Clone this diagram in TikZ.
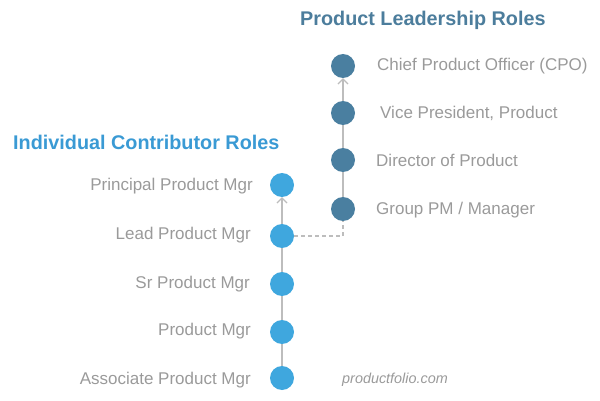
\documentclass[tikz,border=0pt]{standalone}
\usepackage{fontspec}
\setmainfont{Liberation Sans}
\usetikzlibrary{arrows.meta}
\definecolor{icblue}{HTML}{3FA7DE}
\definecolor{plblue}{HTML}{4A7FA0}
\definecolor{ichead}{HTML}{3A9AD4}
\definecolor{plhead}{HTML}{4C7D9C}
\definecolor{lbl}{HTML}{9A9A9A}
\definecolor{ln}{HTML}{BDBDBD}
\begin{document}
\begin{tikzpicture}[x=1pt,y=-1pt,
  icdot/.style={circle,fill=icblue,minimum size=24pt,inner sep=0pt},
  pldot/.style={circle,fill=plblue,minimum size=24pt,inner sep=0pt},
  lblL/.style={anchor=east,text=lbl,font=\fontsize{17}{20}\selectfont,inner sep=0pt},
  lblR/.style={anchor=west,text=lbl,font=\fontsize{17}{20}\selectfont,inner sep=0pt},
  heading/.style={font=\fontsize{19.8}{23}\selectfont\bfseries,inner sep=0pt},
  conn/.style={draw=ln,line width=1.3pt},
  arr/.style={conn,-{Straight Barb[length=5pt,width=10pt,line width=1.2pt]}},
  dashconn/.style={draw=ln,line width=1.3pt,dashed,dash pattern=on 4pt off 3pt}]
\useasboundingbox (0,0) rectangle (600,401);
% left dots
\node[icdot] (ic5) at (282,185) {};
\node[icdot] (ic4) at (282,236) {};
\node[icdot] (ic3) at (282,284) {};
\node[icdot] (ic2) at (282,332) {};
\node[icdot] (ic1) at (282,378) {};
% right dots
\node[pldot] (pl4) at (343,66) {};
\node[pldot] (pl3) at (343,113) {};
\node[pldot] (pl2) at (343,160) {};
\node[pldot] (pl1) at (343,209) {};
% connectors
\draw[conn] (ic1) -- (ic2);
\draw[conn] (ic2) -- (ic3);
\draw[conn] (ic3) -- (ic4);
\draw[arr] (ic4) -- (ic5);
\draw[conn] (pl1) -- (pl2);
\draw[conn] (pl2) -- (pl3);
\draw[arr] (pl3) -- (pl4);
\draw[dashconn] (ic4.east) -| (pl1.south);
% labels
\node[lblL] (t5) at (253,186) {Principal Product Mgr};
\node[lblL] (t4) at (251,235) {Lead Product Mgr};
\node[lblL] (t3) at (250,284) {Sr Product Mgr};
\node[lblL] (t2) at (251,331) {Product Mgr};
\node[lblL] (t1) at (251,380) {Associate Product Mgr};
\node[lblR] (r4) at (377,66) {Chief Product Officer (CPO)};
\node[lblR] (r3) at (380,113) {Vice President, Product};
\node[lblR] (r2) at (376,160) {Director of Product};
\node[lblR] (r1) at (376,210) {Group PM / Manager};
\node[heading,text=ichead,anchor=west] (h1) at (13,142) {Individual Contributor Roles};
\node[heading,text=plhead,anchor=west] (h2) at (300,20) {Product Leadership Roles};
\node[anchor=west,text=lbl,inner sep=0pt,font=\fontsize{14.4}{17}\selectfont\itshape] (pf) at (342,380) {productfolio.com};
\end{tikzpicture}
\end{document}
